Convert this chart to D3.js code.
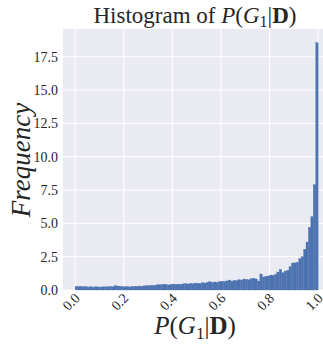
<!DOCTYPE html>
<html>
<head>
<meta charset="utf-8">
<script src="https://cdn.jsdelivr.net/npm/d3@7"></script>
<style>
  body { margin: 0; background: #fff; }
  text { font-family: "Liberation Serif", "DejaVu Serif", serif; fill: #262626; }
</style>
</head>
<body>
<script>
// bin edges: 100 bins over [0, 1]
const binStart = 0;
const binEnd = 1;
const binCount = 100;
// density per bin
const density = [
  0.28, 0.26, 0.27, 0.24, 0.26, 0.22, 0.25, 0.21, 0.24, 0.23,
  0.22, 0.24, 0.23, 0.25, 0.26, 0.24, 0.33, 0.30, 0.28, 0.25,
  0.24, 0.26, 0.23, 0.27, 0.28, 0.27, 0.30, 0.28, 0.31, 0.33,
  0.32, 0.35, 0.34, 0.38, 0.41, 0.39, 0.44, 0.40, 0.38, 0.42,
  0.45, 0.43, 0.44, 0.42, 0.46, 0.48, 0.45, 0.50, 0.47, 0.52,
  0.50, 0.49, 0.55, 0.52, 0.58, 0.62, 0.56, 0.60, 0.57, 0.63,
  0.66, 0.64, 0.68, 0.75, 0.67, 0.72, 0.70, 0.78, 0.74, 0.82,
  0.80, 0.77, 0.85, 0.88, 0.83, 0.67, 1.20, 0.98, 1.02, 1.05,
  1.12, 1.10, 1.18, 1.35, 1.55, 1.30, 1.42, 1.48, 1.75, 2.02,
  2.04, 2.08, 2.35, 2.50, 3.05, 3.60, 4.70, 5.50, 7.90, 18.55
];
const xTicks = [0, 0.2, 0.4, 0.6, 0.8, 1.0];
const yTicks = [0, 2.5, 5, 7.5, 10, 12.5, 15, 17.5];

const w = 323;
const h = 351;
const m = { t: 29, l: 63, b: 61 };
const binW = (binEnd - binStart) / binCount;

const svg = d3.select("body").append("svg").attr("width", w).attr("height", h);

const xScale = d3.scaleLinear().domain([-0.05, 1.05]).range([m.l, m.l + 267.3]);
const yScale = d3.scaleLinear().domain([0, 19.58]).range([h - m.b, m.t]);

// background
svg
  .append("rect")
  .attr("x", xScale(-0.05))
  .attr("y", yScale(19.58))
  .attr("width", xScale(1.05) - xScale(-0.05))
  .attr("height", yScale(0) - yScale(19.58))
  .attr("fill", "#eaeaf2");

// grid
svg
  .append("g")
  .selectAll("line")
  .data(xTicks)
  .enter()
  .append("line")
  .attr("x1", (d) => xScale(d))
  .attr("x2", (d) => xScale(d))
  .attr("y1", yScale(0))
  .attr("y2", yScale(19.58))
  .attr("stroke", "#fff")
  .attr("stroke-width", 1);
svg
  .append("g")
  .selectAll("line")
  .data(yTicks)
  .enter()
  .append("line")
  .attr("x1", xScale(-0.05))
  .attr("x2", xScale(1.05))
  .attr("y1", (d) => yScale(d))
  .attr("y2", (d) => yScale(d))
  .attr("stroke", "#fff")
  .attr("stroke-width", 1);

// bars
svg
  .append("g")
  .selectAll("rect")
  .data(density)
  .enter()
  .append("rect")
  .attr("x", (d, i) => xScale(binStart + i * binW))
  .attr("width", (d, i) => xScale(binStart + (i + 1) * binW) - xScale(binStart + i * binW))
  .attr("y", (d) => yScale(d))
  .attr("height", (d) => yScale(0) - yScale(d))
  .attr("fill", "#4c72b0")
  .attr("stroke", "#4c72b0")
  .attr("stroke-width", 0.3);

// y axis
const yAxis = d3.axisLeft(yScale).tickValues(yTicks).tickSize(0).tickPadding(5)
  .tickFormat(d3.format(".1f"));
const yAG = svg.append("g").attr("transform", `translate(${m.l}, 0)`).call(yAxis);
yAG.select(".domain").remove();
yAG.selectAll("text").style("font-size", "14px").style("font-family", "Liberation Serif").attr("fill", "#262626");

// x axis
const xAxis = d3.axisBottom(xScale).tickValues(xTicks).tickSize(0).tickPadding(0)
  .tickFormat(d3.format(".1f"));
const xAG = svg.append("g").attr("transform", `translate(0, ${yScale(0)})`).call(xAxis);
xAG.select(".domain").remove();
xAG
  .selectAll("text")
  .style("font-size", "14px")
  .style("font-family", "Liberation Serif")
  .attr("fill", "#262626")
  .attr("text-anchor", "end")
  .attr("dy", null)
  .attr("y", 0)
  .attr("transform", "translate(5, 9) rotate(-45)");

// title
const title = svg
  .append("text")
  .attr("x", 195)
  .attr("y", 23)
  .attr("text-anchor", "middle")
  .style("font-size", "23px");
title.append("tspan").text("Histogram of ");
title.append("tspan").attr("font-style", "italic").text("P");
title.append("tspan").text("(");
title.append("tspan").attr("font-style", "italic").text("G");
title.append("tspan").attr("font-size", "16px").attr("dy", 4).text("1");
title.append("tspan").attr("dy", -4).text("|");
title.append("tspan").attr("font-weight", "bold").text("D");
title.append("tspan").text(")");

// x label
const xLabel = svg
  .append("text")
  .attr("x", 195)
  .attr("y", 334)
  .attr("text-anchor", "middle")
  .style("font-size", "25px");
xLabel.append("tspan").attr("font-style", "italic").text("P");
xLabel.append("tspan").text("(");
xLabel.append("tspan").attr("font-style", "italic").text("G");
xLabel.append("tspan").attr("font-size", "17px").attr("dy", 5).text("1");
xLabel.append("tspan").attr("dy", -5).text("|");
xLabel.append("tspan").attr("font-weight", "bold").text("D");
xLabel.append("tspan").text(")");

// y label
svg
  .append("text")
  .attr("transform", "rotate(-90)")
  .attr("x", -160)
  .attr("y", 30)
  .attr("text-anchor", "middle")
  .attr("font-style", "italic")
  .style("font-size", "27px")
  .text("Frequency");
</script>
</body>
</html>
